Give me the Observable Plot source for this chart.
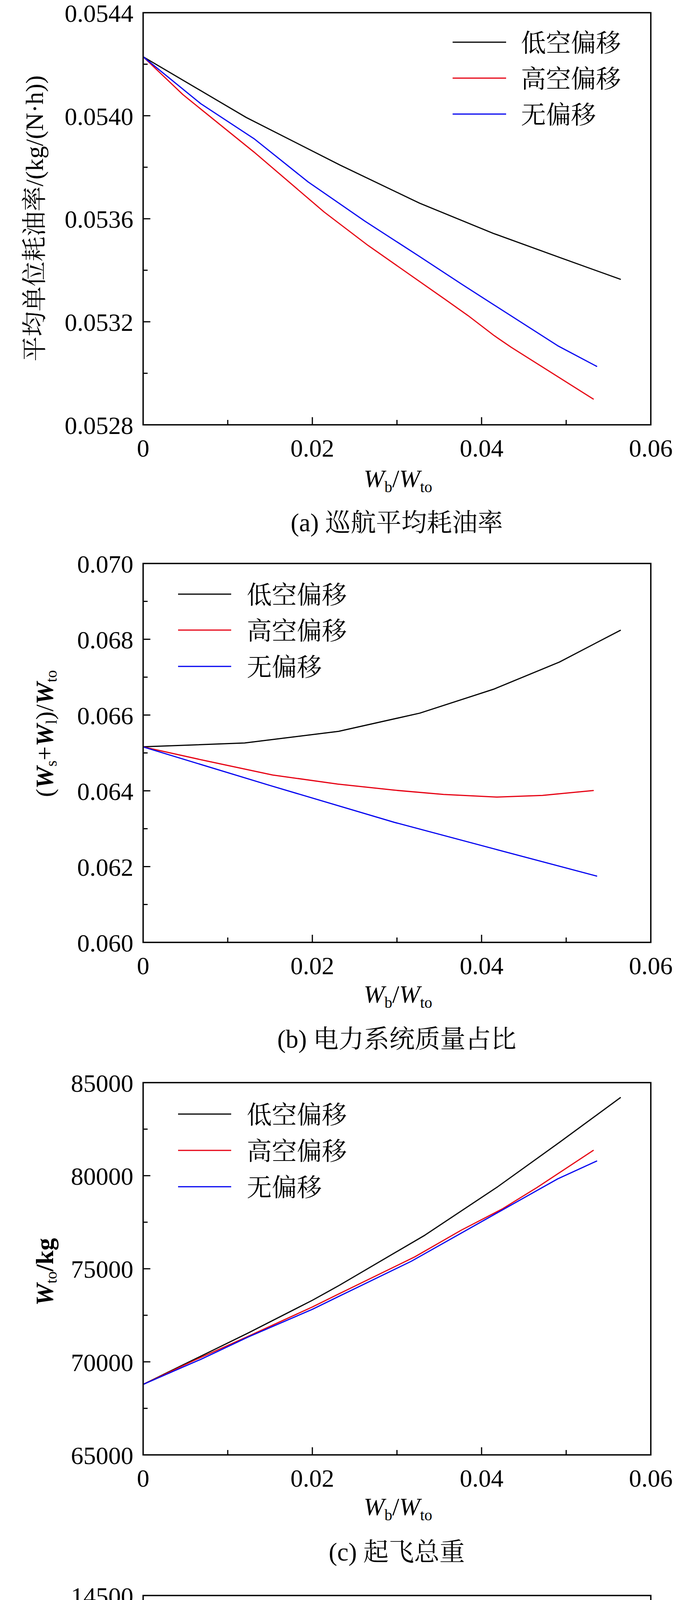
<!DOCTYPE html>
<html>
<head>
<meta charset="utf-8">
<script src="https://cdn.jsdelivr.net/npm/d3@7"></script>
<script src="https://cdn.jsdelivr.net/npm/@observablehq/plot@0.6"></script>
<style>
  html, body { margin: 0; padding: 0; background: #fff; overflow: hidden; }
  #root { width: 1772px; }
  #root svg { display: block; }
</style>
</head>
<body>
<div id="root"></div>
<script>
// ---------------- data ----------------
const seriesNames = ["低空偏移", "高空偏移", "无偏移"];
const seriesColors = ["#000000", "#e60012", "#0000f0"];

const xMajor = [0, 0.02, 0.04, 0.06];
const xMinor = [0.01, 0.03, 0.05];

// (a) 巡航平均耗油率
const sfcLow  = [[0,0.054229],[0.0122,0.053993],[0.0233,0.053808],[0.0327,0.053660],[0.0414,0.053543],[0.0492,0.053450],[0.0564,0.053365]];
const sfcHigh = [[0,0.054229],[0.0047,0.054082],[0.0131,0.053859],[0.0214,0.053626],[0.0266,0.053496],[0.0356,0.053289],[0.0384,0.053224],[0.0415,0.053146],[0.0435,0.053101],[0.0532,0.052900]];
const sfcNone = [[0,0.054229],[0.0068,0.054047],[0.0131,0.053911],[0.0195,0.053743],[0.0262,0.053591],[0.0325,0.053457],[0.0376,0.053347],[0.0413,0.053269],[0.0490,0.053107],[0.0536,0.053027]];
const sfcTicks = [0.0528, 0.0532, 0.0536, 0.0540, 0.0544];
const sfcMinor = [0.0530, 0.0534, 0.0538, 0.0542];

// (b) 电力系统质量占比
const ratioLow  = [[0,0.065162],[0.0120,0.065262],[0.0231,0.065570],[0.0327,0.066050],[0.0414,0.066680],[0.0492,0.067399],[0.0564,0.068236]];
const ratioHigh = [[0,0.065159],[0.0075,0.064788],[0.0153,0.064418],[0.0230,0.064178],[0.0297,0.064017],[0.0355,0.063904],[0.0418,0.063836],[0.0472,0.063880],[0.0532,0.064007]];
const ratioNone = [[0,0.065159],[0.0150,0.064140],[0.0297,0.063168],[0.0417,0.062455],[0.0536,0.061750]];
const ratioTicks = [0.060, 0.062, 0.064, 0.066, 0.068, 0.070];
const ratioMinor = [0.061, 0.063, 0.065, 0.067, 0.069];

// (c) 起飞总重
const wtoLow  = [[0,68785],[0.0062,70166],[0.0124,71547],[0.0200,73305],[0.0232,74112],[0.0333,76803],[0.0419,79404],[0.0492,81789],[0.0564,84193]];
const wtoHigh = [[0,68785],[0.0062,70110],[0.0124,71368],[0.0200,72946],[0.0232,73664],[0.0321,75637],[0.0376,77072],[0.0424,78202],[0.0465,79350],[0.0532,81359]];
const wtoNone = [[0,68785],[0.0068,70130],[0.0124,71332],[0.0200,72820],[0.0234,73574],[0.0317,75404],[0.0415,77915],[0.0490,79830],[0.0536,80785]];
const wtoTicks = [65000, 70000, 75000, 80000, 85000];
const wtoMinor = [67500, 72500, 77500, 82500];

// (d) 燃油消耗
const fuelLow  = [[0,12064],[0.0122,12437],[0.0200,12703],[0.0232,12814],[0.0329,13191],[0.0415,13557],[0.0492,13935],[0.0564,14296]];
const fuelHigh = [[0,12064],[0.0096,12315],[0.0200,12581],[0.0234,12688],[0.0321,12947],[0.0368,13118],[0.0424,13287],[0.0473,13513],[0.0532,13739]];
const fuelNone = [[0,12064],[0.0096,12311],[0.0200,12570],[0.0234,12674],[0.0317,12918],[0.0415,13247],[0.0490,13495],[0.0536,13639]];
const fuelTicks = [12000, 12500, 13000, 13500, 14000, 14500];
const fuelMinor = [12250, 12750, 13250, 13750, 14250];

const captions = ["(a) 巡航平均耗油率", "(b) 电力系统质量占比", "(c) 起飞总重", "(d) 燃油消耗"];

// ---------------- layout / style ----------------
const FONT = "'Times New Roman','Liberation Serif','Noto Serif CJK SC','Noto Sans CJK SC',serif";
const W = 1772, ML = 366, MR = 106, FW = W - ML - MR;
const CX = ML + FW / 2;

const panels = [
  { series: [sfcLow, sfcHigh, sfcNone], yDomain: [0.0528, 0.0544], yMajor: sfcTicks, yMinor: sfcMinor,
    fmt: d => d.toFixed(4), mt: 32, fh: 1055, mb: 298,
    legend: { x1: 1159, x2: 1296, tx: 1334, rows: [108, 200, 292] },
    ylab: { x: 110, y: 559, parts: [{t: "平均单位耗油率/(kg/(N·h))"}] },
    xlabDy: 160, capY: 1337 },
  { series: [ratioLow, ratioHigh, ratioNone], yDomain: [0.060, 0.070], yMajor: ratioTicks, yMinor: ratioMinor,
    fmt: d => d.toFixed(3), mt: 57, fh: 970, mb: 293,
    legend: { x1: 456, x2: 592, tx: 632, rows: [136, 228, 321] },
    ylab: { x: 136, y: 493, parts: [{t: "("}, {t: "W", i: 1, b: 1}, {t: "s", sub: 1}, {t: "+"}, {t: "W", i: 1, b: 1}, {t: "l", sub: 1}, {t: ")/"}, {t: "W", i: 1, b: 1}, {t: "to", sub: 1}] },
    xlabDy: 155, capY: 1274 },
  { series: [wtoLow, wtoHigh, wtoNone], yDomain: [65000, 85000], yMajor: wtoTicks, yMinor: wtoMinor,
    fmt: d => String(d), mt: 66, fh: 953, mb: 301,
    legend: { x1: 456, x2: 592, tx: 632, rows: [147, 240, 333] },
    ylab: { x: 136, y: 551, parts: [{t: "W", i: 1, b: 1}, {t: "to", sub: 1}, {t: "/kg", b: 1}] },
    xlabDy: 155, capY: 1267 },
  { series: [fuelLow, fuelHigh, fuelNone], yDomain: [12000, 14500], yMajor: fuelTicks, yMinor: fuelMinor,
    fmt: d => String(d), mt: 59, fh: 963, mb: 296,
    legend: { x1: 439, x2: 576, tx: 615, rows: [128, 221, 313] },
    ylab: { x: 136, y: 550, parts: [{t: "W", i: 1, b: 1}, {t: "fuel", sub: 1}, {t: "/kg", b: 1}] },
    xlabDy: 157, capY: 1273 }
];

function rich(sel, parts, size, subSize, shift) {
  let cur = 0;
  parts.forEach(p => {
    const ts = sel.append("tspan").text(p.t);
    const target = p.sub ? shift : 0;
    if (target !== cur) { ts.attr("dy", target - cur); cur = target; }
    ts.attr("font-size", p.sub ? subSize : size);
    if (p.i) ts.attr("font-style", "italic");
    if (p.b) ts.attr("font-weight", "bold");
  });
}

const root = document.getElementById("root");
const MAJ = 19, MIN = 12;

panels.forEach((cfg, k) => {
  const H = cfg.mt + cfg.fh + cfg.mb;
  const svg = Plot.plot({
    width: W, height: H,
    marginLeft: ML, marginRight: MR, marginTop: cfg.mt, marginBottom: cfg.mb,
    style: { fontFamily: FONT, fontSize: "64px", color: "#000", background: "transparent", overflow: "visible" },
    x: { domain: [0, 0.06], label: null },
    y: { domain: cfg.yDomain, label: null },
    marks: [
      Plot.tickX(xMajor, { x: d => d, insetTop: cfg.fh - MAJ, strokeWidth: 3 }),
      Plot.tickX(xMinor, { x: d => d, insetTop: cfg.fh - MIN, strokeWidth: 3 }),
      Plot.tickY(cfg.yMajor, { y: d => d, insetRight: FW - MAJ, strokeWidth: 3 }),
      Plot.tickY(cfg.yMinor, { y: d => d, insetRight: FW - MIN, strokeWidth: 3 }),
      Plot.axisX(xMajor, { tickSize: 0, tickPadding: 36, fontSize: 64, tickFormat: d => String(d), label: null }),
      Plot.axisY(cfg.yMajor, { tickSize: 0, tickPadding: 25, fontSize: 64, tickFormat: cfg.fmt, label: null, dy: 3 }),
      ...cfg.series.map((data, i) => Plot.line(data, {
        x: d => d[0], y: d => d[1], stroke: seriesColors[i], strokeWidth: 3, strokeLinejoin: "round"
      })),
      Plot.frame({ stroke: "#000", strokeWidth: 3.5 })
    ]
  });

  const s = d3.select(svg);

  // legend
  cfg.legend.rows.forEach((ry, i) => {
    s.append("line")
      .attr("x1", cfg.legend.x1).attr("x2", cfg.legend.x2)
      .attr("y1", ry).attr("y2", ry)
      .attr("stroke", seriesColors[i]).attr("stroke-width", 3);
    s.append("text")
      .attr("x", cfg.legend.tx).attr("y", ry).attr("dy", "0.38em")
      .attr("text-anchor", "start")
      .attr("font-family", FONT).attr("font-size", 64).attr("fill", "#000")
      .text(seriesNames[i]);
  });

  // x label
  const frameBottom = cfg.mt + cfg.fh;
  const xl = s.append("text")
    .attr("x", CX + 3).attr("y", frameBottom + cfg.xlabDy)
    .attr("text-anchor", "middle").attr("font-family", FONT).attr("fill", "#000");
  rich(xl, [{t: "W", i: 1}, {t: "b", sub: 1}, {t: "/"}, {t: "W", i: 1}, {t: "to", sub: 1}], 64, 40, 13);

  // y label
  const yl = s.append("text")
    .attr("transform", `translate(${cfg.ylab.x},${cfg.ylab.y}) rotate(-90)`)
    .attr("text-anchor", "middle").attr("font-family", FONT).attr("fill", "#000");
  rich(yl, cfg.ylab.parts, 64, 40, 9);

  // caption
  s.append("text")
    .attr("x", CX).attr("y", cfg.capY).attr("dy", "0.36em")
    .attr("text-anchor", "middle").attr("font-family", FONT)
    .attr("font-size", 65).attr("fill", "#000")
    .text(captions[k]);

  root.appendChild(svg);
});
</script>
</body>
</html>
